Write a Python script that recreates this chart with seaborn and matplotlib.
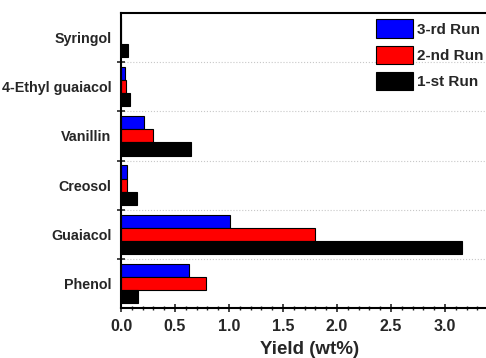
import matplotlib
matplotlib.use("Agg")
import matplotlib.pyplot as plt
import seaborn as sns
import pandas as pd
from matplotlib.ticker import MultipleLocator, FixedLocator

compounds = ["Syringol", "4-Ethyl guaiacol", "Vanillin", "Creosol", "Guaiacol", "Phenol"]
runs = ["3-rd Run", "2-nd Run", "1-st Run"]
run3 = [0.0, 0.04, 0.21, 0.06, 1.01, 0.63]
run2 = [0.0, 0.05, 0.30, 0.055, 1.80, 0.79]
run1 = [0.065, 0.08, 0.65, 0.15, 3.16, 0.16]
colors = ["#0000ff", "#ff0000", "#000000"]

rows = []
for run, vals in zip(runs, [run3, run2, run1]):
    for c, v in zip(compounds, vals):
        rows.append({"compound": c, "run": run, "yield": v})
df = pd.DataFrame(rows)

sns.set_style("ticks")
plt.rcParams["font.family"] = ["Liberation Sans", "DejaVu Sans"]
plt.rcParams["font.weight"] = "bold"

fig = plt.figure(figsize=(4.86, 3.58), dpi=100)
ax = fig.add_axes([121 / 486, 50 / 358, 378 / 486, 295 / 358])

sns.barplot(data=df, x="yield", y="compound", hue="run", hue_order=runs,
            order=compounds, palette=colors, orient="h", width=0.8,
            saturation=1, edgecolor="black", linewidth=0.8, ax=ax, errorbar=None)

ax.set_xlim(0, 3.5)
ax.xaxis.set_minor_locator(MultipleLocator(0.1))
ax.set_xticks([0, 0.5, 1.0, 1.5, 2.0, 2.5, 3.0])
ax.set_xticklabels(["0.0", "0.5", "1.0", "1.5", "2.0", "2.5", "3.0"],
                   fontsize=11.5, fontweight="bold")
ax.yaxis.set_minor_locator(FixedLocator([0.5, 1.5, 2.5, 3.5, 4.5]))
ax.tick_params(axis="y", which="major", length=0, pad=7, labelsize=10.3)
for lab in ax.get_yticklabels():
    lab.set_fontweight("bold")
ax.tick_params(axis="y", which="minor", direction="inout", length=6, width=1.2)
ax.tick_params(axis="x", which="major", direction="inout", length=6, width=1.2, pad=5)
ax.tick_params(axis="x", which="minor", direction="inout", length=3.5, width=1.0)
ax.grid(axis="y", which="minor", linestyle=":", color="#c8c8c8", linewidth=0.8)
ax.set_axisbelow(True)

ax.set_ylabel("")
ax.set_xlabel("Yield (wt%)", fontsize=13.5, fontweight="bold", labelpad=5)

for s in ax.spines.values():
    s.set_linewidth(1.5)
    s.set_color("black")

leg = ax.legend(loc="upper left", bbox_to_anchor=(0.675, 0.978), frameon=False,
                prop={"weight": "bold", "size": 11}, handlelength=2.4,
                handleheight=1.44, handletextpad=0.3, labelspacing=0.55,
                borderaxespad=0, borderpad=0)

fig.savefig("out.png", dpi=100)
